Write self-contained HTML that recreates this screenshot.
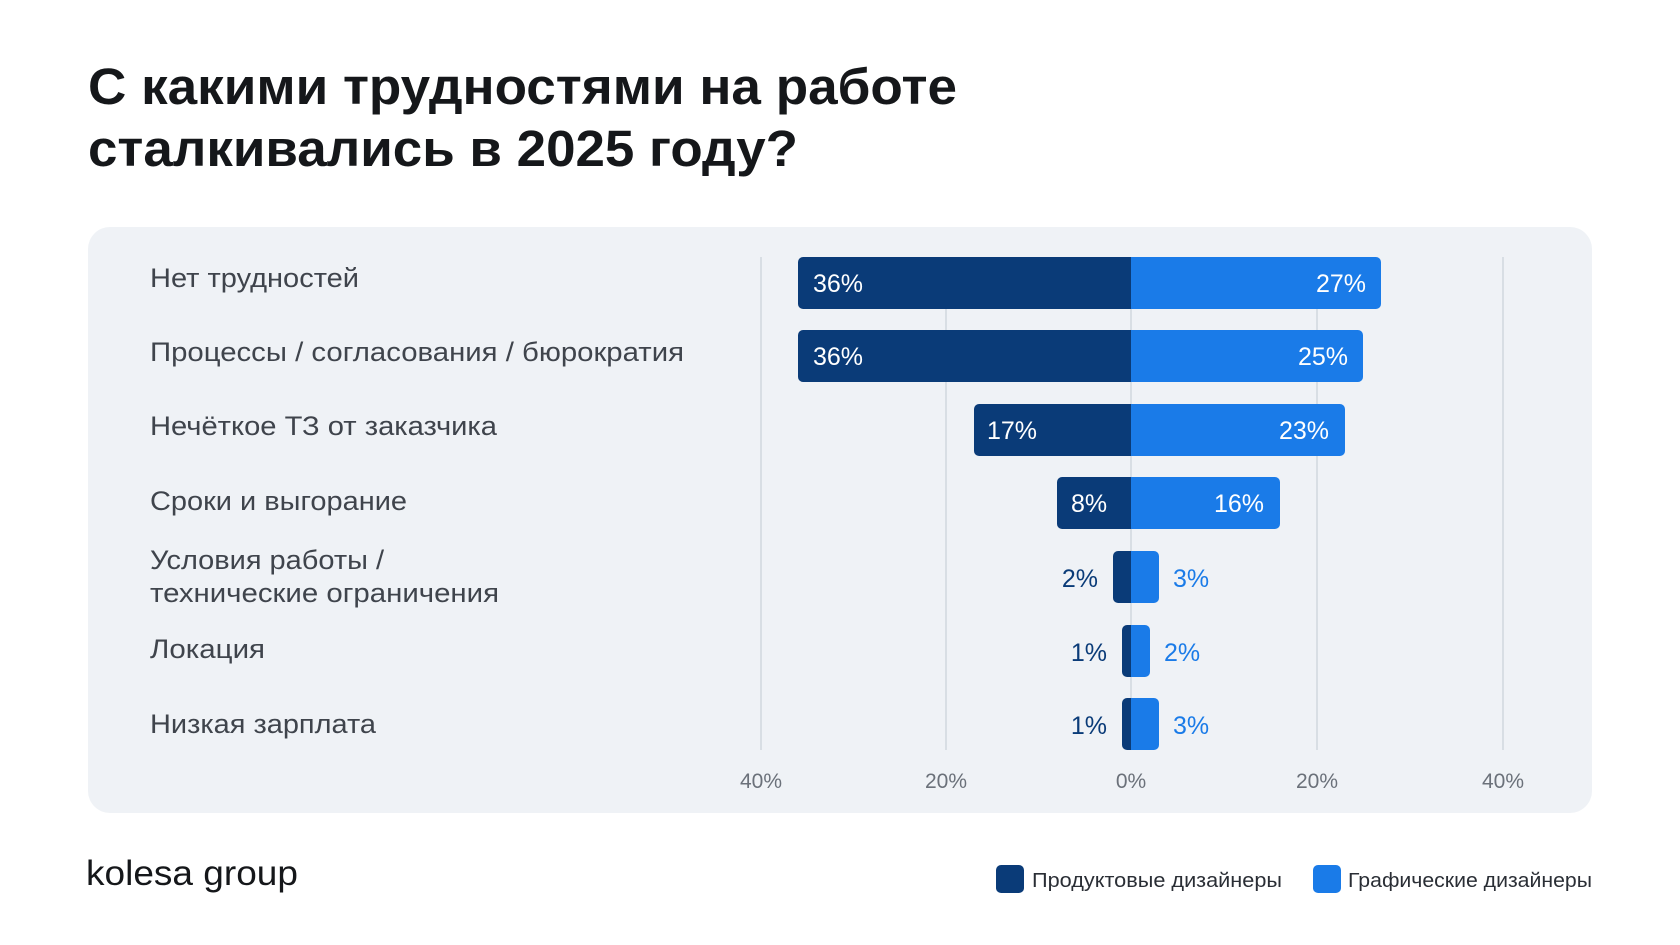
<!DOCTYPE html>
<html><head><meta charset="utf-8"><style>
html,body{margin:0;padding:0;background:#fff;}
svg{display:block;font-family:"Liberation Sans","DejaVu Sans",sans-serif;}
</style></head><body>
<svg width="1680" height="945" viewBox="0 0 1680 945" xmlns="http://www.w3.org/2000/svg">
<rect width="1680" height="945" fill="#fff"/>
<text x="88" y="104" font-size="51" font-weight="700" fill="#15171a" textLength="869" lengthAdjust="spacingAndGlyphs">С какими трудностями на работе</text>
<text x="88" y="166" font-size="51" font-weight="700" fill="#15171a" textLength="710" lengthAdjust="spacingAndGlyphs">сталкивались в 2025 году?</text>
<rect x="88" y="227" width="1504" height="586" rx="22" fill="#eff2f6"/>
<g stroke="#c9d0d8" stroke-width="1.2">
<line x1="761" y1="257" x2="761" y2="750"/><line x1="946" y1="257" x2="946" y2="750"/>
<line x1="1131" y1="257" x2="1131" y2="750"/><line x1="1317" y1="257" x2="1317" y2="750"/>
<line x1="1503" y1="257" x2="1503" y2="750"/>
</g>
<g font-size="21" fill="#6b717a" text-anchor="middle">
<text x="761" y="788">40%</text><text x="946" y="788">20%</text><text x="1131" y="788">0%</text><text x="1317" y="788">20%</text><text x="1503" y="788">40%</text>
</g>
<g font-size="27" fill="#3f444c" lengthAdjust="spacingAndGlyphs">
<text x="150" y="287" textLength="209" lengthAdjust="spacingAndGlyphs">Нет трудностей</text>
<text x="150" y="361" textLength="534" lengthAdjust="spacingAndGlyphs">Процессы / согласования / бюрократия</text>
<text x="150" y="435" textLength="347" lengthAdjust="spacingAndGlyphs">Нечёткое ТЗ от заказчика</text>
<text x="150" y="510" textLength="257" lengthAdjust="spacingAndGlyphs">Сроки и выгорание</text>
<text x="150" y="569" textLength="234" lengthAdjust="spacingAndGlyphs">Условия работы /</text>
<text x="150" y="602" textLength="349" lengthAdjust="spacingAndGlyphs">технические ограничения</text>
<text x="150" y="658" textLength="115" lengthAdjust="spacingAndGlyphs">Локация</text>
<text x="150" y="733" textLength="226" lengthAdjust="spacingAndGlyphs">Низкая зарплата</text>
</g>
<g>
<rect x="798" y="257" width="343" height="52" rx="5" fill="#0a3b78"/><rect x="1131" y="257" width="250" height="52" rx="5" fill="#1a7be8"/><rect x="1131" y="257" width="10" height="52" fill="#1a7be8"/>
<rect x="798" y="330" width="343" height="52" rx="5" fill="#0a3b78"/><rect x="1131" y="330" width="232" height="52" rx="5" fill="#1a7be8"/><rect x="1131" y="330" width="10" height="52" fill="#1a7be8"/>
<rect x="974" y="404" width="167" height="52" rx="5" fill="#0a3b78"/><rect x="1131" y="404" width="214" height="52" rx="5" fill="#1a7be8"/><rect x="1131" y="404" width="10" height="52" fill="#1a7be8"/>
<rect x="1057" y="477" width="84" height="52" rx="5" fill="#0a3b78"/><rect x="1131" y="477" width="149" height="52" rx="5" fill="#1a7be8"/><rect x="1131" y="477" width="10" height="52" fill="#1a7be8"/>
<rect x="1113" y="551" width="28" height="52" rx="5" fill="#0a3b78"/><rect x="1131" y="551" width="28" height="52" rx="5" fill="#1a7be8"/><rect x="1131" y="551" width="10" height="52" fill="#1a7be8"/>
<rect x="1122" y="625" width="19" height="52" rx="5" fill="#0a3b78"/><rect x="1131" y="625" width="19" height="52" rx="5" fill="#1a7be8"/><rect x="1131" y="625" width="10" height="52" fill="#1a7be8"/>
<rect x="1122" y="698" width="19" height="52" rx="5" fill="#0a3b78"/><rect x="1131" y="698" width="28" height="52" rx="5" fill="#1a7be8"/><rect x="1131" y="698" width="10" height="52" fill="#1a7be8"/>
</g>
<g font-size="25" fill="#fff">
<text x="813" y="292">36%</text><text x="1366" y="292" text-anchor="end">27%</text>
<text x="813" y="365">36%</text><text x="1348" y="365" text-anchor="end">25%</text>
<text x="987" y="439">17%</text><text x="1329" y="439" text-anchor="end">23%</text>
<text x="1071" y="512">8%</text><text x="1264" y="512" text-anchor="end">16%</text>
</g>
<g font-size="25">
<text x="1098" y="587" text-anchor="end" fill="#0a3b78">2%</text><text x="1173" y="587" fill="#1a7be8">3%</text>
<text x="1107" y="661" text-anchor="end" fill="#0a3b78">1%</text><text x="1164" y="661" fill="#1a7be8">2%</text>
<text x="1107" y="734" text-anchor="end" fill="#0a3b78">1%</text><text x="1173" y="734" fill="#1a7be8">3%</text>
</g>
<text x="86" y="885" font-size="35" fill="#15171a" textLength="212" lengthAdjust="spacingAndGlyphs">kolesa group</text>
<rect x="996" y="865" width="28" height="28" rx="5" fill="#0a3b78"/>
<text x="1032" y="887" font-size="20" fill="#2a2e35" textLength="250" lengthAdjust="spacingAndGlyphs">Продуктовые дизайнеры</text>
<rect x="1313" y="865" width="28" height="28" rx="5" fill="#1a7be8"/>
<text x="1348" y="887" font-size="20" fill="#2a2e35" textLength="244" lengthAdjust="spacingAndGlyphs">Графические дизайнеры</text>
</svg>
</body></html>
